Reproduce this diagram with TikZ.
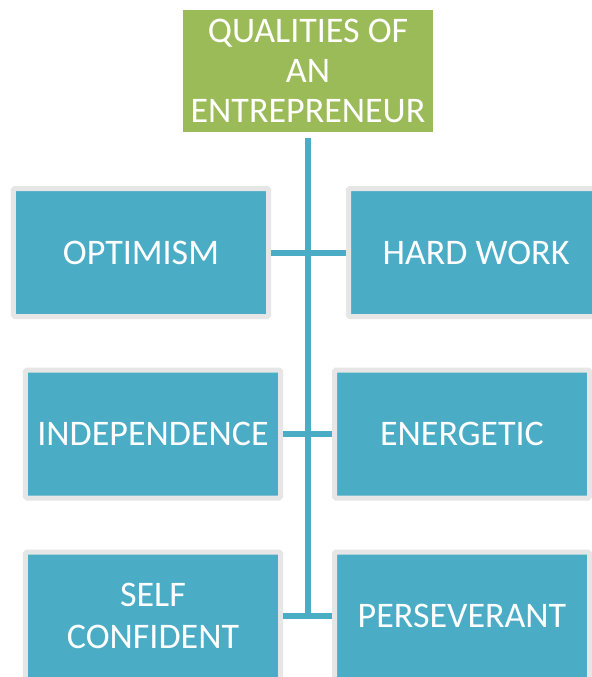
\documentclass[tikz,border=0pt]{standalone}
\usepackage{fontspec}
\setmainfont{Carlito}
\definecolor{qblue}{HTML}{4BACC6}
\definecolor{qgreen}{HTML}{9BBB59}
\definecolor{qgray}{HTML}{E6E6E6}
\begin{document}
\begin{tikzpicture}[x=1bp,y=-1bp,
  qbox/.style={fill=qblue, draw=qgray, line width=5bp, rounded corners=1.5bp,
    minimum width=255bp, minimum height=128bp, inner sep=0pt,
    text=white, align=center, font=\fontsize{36bp}{42bp}\selectfont},
  topbox/.style={fill=qgreen, minimum width=250bp, minimum height=122bp, inner sep=0pt,
    text=white, align=center, font=\fontsize{36bp}{40bp}\selectfont},
  link/.style={draw=qblue, line width=6bp}]
\useasboundingbox (0,0) rectangle (592,677);
\clip (0,0) rectangle (592,677);
\fill[white] (0,0) rectangle (592,677);
\node[topbox] (top) at (308,71) {QUALITIES OF\\AN\\ENTREPRENEUR};
\node[qbox] (opt) at (141,252.5) {OPTIMISM};
\node[qbox] (hw) at (476,252.5) {HARD WORK};
\node[qbox] (ind) at (153,434) {INDEPENDENCE};
\node[qbox] (en) at (462,434) {ENERGETIC};
\node[qbox] (sc) at (153,616) {SELF\\CONFIDENT};
\node[qbox] (pe) at (462,616) {PERSEVERANT};
\draw[link] ([yshift=-6bp]top.south) -- (top.south |- sc.east);
\draw[link] (opt.east) -- (hw.west);
\draw[link] (ind.east) -- (en.west);
\draw[link] (sc.east) -- (pe.west);
\end{tikzpicture}
\end{document}
